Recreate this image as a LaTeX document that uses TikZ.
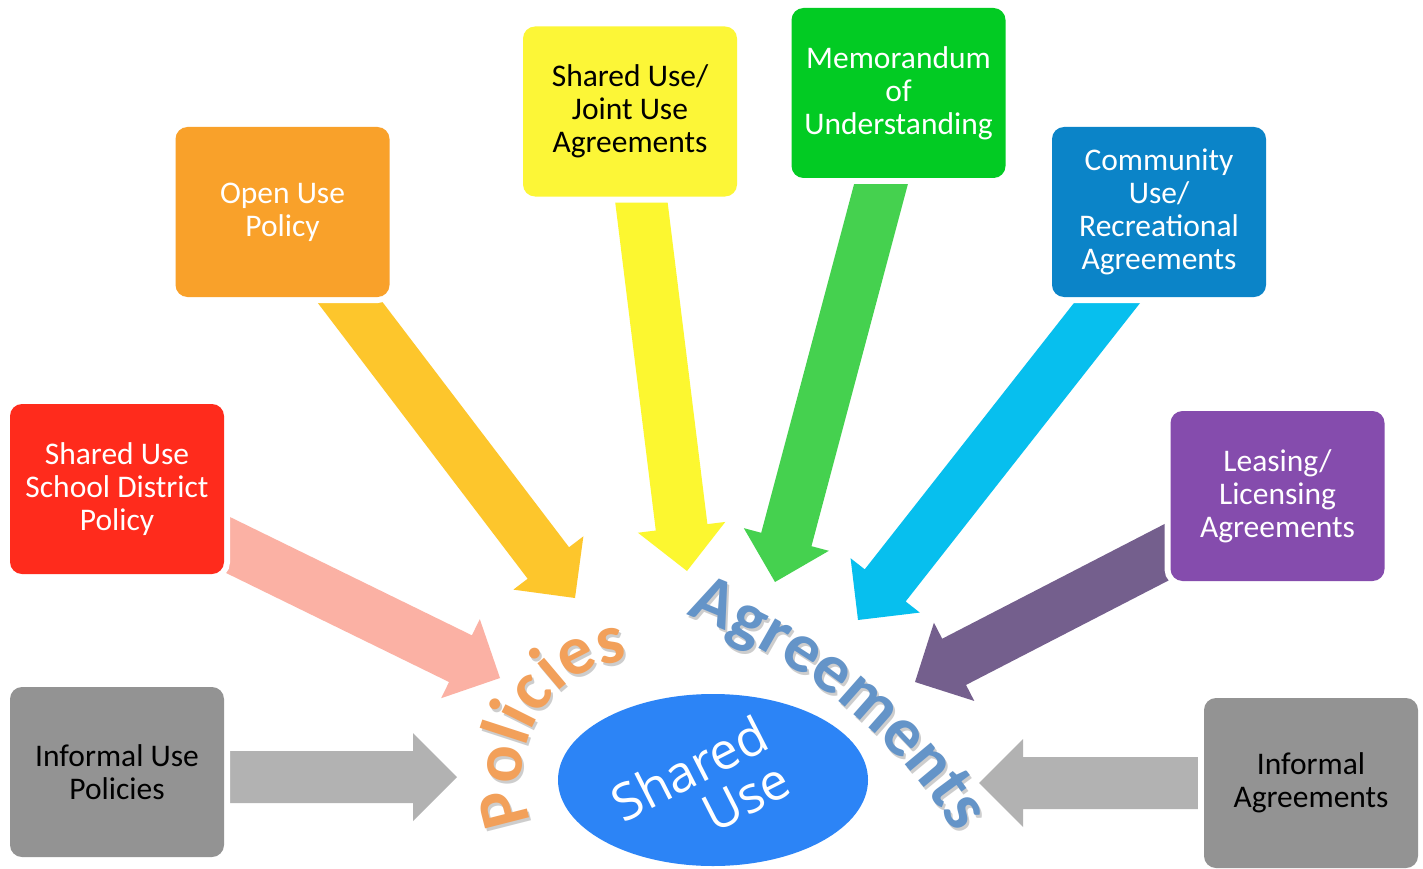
\documentclass[tikz,border=0pt]{standalone}
\usepackage{fontspec}
\setmainfont{Carlito}
\newfontfamily\osans{Open Sans}
\usetikzlibrary{calc,shapes.geometric,decorations.text}
\pgfdeclarelayer{bg}
\pgfsetlayers{bg,main}

\definecolor{cRed}{RGB}{255,43,28}
\definecolor{cGray}{RGB}{147,147,147}
\definecolor{cOrange}{RGB}{249,161,42}
\definecolor{cYellow}{RGB}{252,246,55}
\definecolor{cGreen}{RGB}{2,203,35}
\definecolor{cBlue}{RGB}{11,132,200}
\definecolor{cPurple}{RGB}{133,76,173}
\definecolor{aGray}{RGB}{178,178,178}
\definecolor{aPink}{RGB}{251,177,164}
\definecolor{aGold}{RGB}{253,198,44}
\definecolor{aYellow}{RGB}{252,247,48}
\definecolor{aGreen}{RGB}{69,209,79}
\definecolor{aCyan}{RGB}{7,191,238}
\definecolor{aPurple}{RGB}{116,95,141}
\definecolor{cEllipse}{RGB}{44,132,246}
\definecolor{cPol}{RGB}{242,160,90}
\definecolor{cAgr}{RGB}{100,148,200}
\definecolor{cShadow}{RGB}{205,205,205}

\newcommand{\BlkArrow}[3]{%
  \coordinate (ba-s) at ($(#1)!-30pt!(#2)$);
  \coordinate (ba-b) at ($(#2)!44pt!(#1)$);
  \fill[#3] ($(ba-s)!26pt!90:(#2)$) -- ($(ba-b)!26pt!90:(#2)$)
    -- ($(ba-b)!44pt!90:(#2)$) -- (#2) -- ($(ba-b)!44pt!-90:(#2)$)
    -- ($(ba-b)!26pt!-90:(#2)$) -- ($(ba-s)!26pt!-90:(#2)$) -- cycle;
}
\newcommand{\bigbold}{\fontsize{70}{72}\selectfont\bfseries}

\tikzset{
  box/.style={rounded corners=12pt, minimum width=214pt, minimum height=170pt,
    inner sep=0pt, align=center, font=\fontsize{31.5}{33}\selectfont,
    preaction={draw=white, line width=12pt}},
  sutext/.style={text=white, rotate=27, font=\osans\fontsize{51}{53}\selectfont, inner sep=0pt},
}

\begin{document}
\begin{tikzpicture}[x=1pt, y=-1pt]
\useasboundingbox (0,0) rectangle (1423,869);

% boxes
\node[box, fill=cRed, text=white] (sdp) at (117,489) {Shared Use\\School District\\Policy};
\node[box, fill=cGray, text=black] (iup) at (117,772) {Informal Use\\Policies};
\node[box, fill=cOrange, text=white] (oup) at (282.5,212) {Open Use\\Policy};
\node[box, fill=cYellow, text=black] (sju) at (630,111.5) {Shared Use/\\Joint Use\\Agreements};
\node[box, fill=cGreen, text=white] (mou) at (898.5,93) {Memorandum\\of\\Understanding};
\node[box, fill=cBlue, text=white] (cur) at (1159,212) {Community\\Use/\\Recreational\\Agreements};
\node[box, fill=cPurple, text=white] (llg) at (1277.5,496) {Leasing/\\Licensing\\Agreements};
\node[box, fill=cGray, text=black] (iag) at (1311,783) {Informal\\Agreements};

% arrow end points
\coordinate (s1) at (229,777);   \coordinate (t1) at (457,777);
\coordinate (s2) at (226,544);   \coordinate (t2) at (500,678);
\coordinate (s3) at (350.5,303); \coordinate (t3) at (575,598);
\coordinate (s4) at (641.5,203); \coordinate (t4) at (687,571);
\coordinate (s5) at (881,184);   \coordinate (t5) at (775,582);
\coordinate (s6) at (1107,303);  \coordinate (t6) at (858,620);
\coordinate (s7) at (1167,552);  \coordinate (t7) at (915,682);
\coordinate (s8) at (1199,783);  \coordinate (t8) at (979,783);

\begin{pgfonlayer}{bg}
\fill[white] (0,0) rectangle (1423,869);
\BlkArrow{s1}{t1}{aGray}
\BlkArrow{s2}{t2}{aPink}
\BlkArrow{s3}{t3}{aGold}
\BlkArrow{s4}{t4}{aYellow}
\BlkArrow{s5}{t5}{aGreen}
\BlkArrow{s6}{t6}{aCyan}
\BlkArrow{s7}{t7}{aPurple}
\BlkArrow{s8}{t8}{aGray}
\end{pgfonlayer}

% centre
\node[ellipse, fill=cEllipse, minimum width=310pt, minimum height=172pt, inner sep=0pt] (su) at (713,780) {};
\node[sutext] (sut1) at (689,768) {Shared};
\node[sutext] (sut2) at (746,797) {Use};

% curved words with soft shadow
\path[decorate, decoration={text along path, text={|\bigbold|Policies}, text align=center, text color=cShadow}]
  (639,778) ++(150:115) arc[start angle=150, end angle=272, radius=115];
\path[decorate, decoration={text along path, text={|\bigbold|Policies}, text align=center, text color=cPol}]
  (637,775) ++(150:115) arc[start angle=150, end angle=272, radius=115];
\path[decorate, decoration={text along path, text={|\bigbold|Agreements}, text align=center, text color=cShadow}]
  (502,1124) ++(-75:539) arc[start angle=-75, end angle=-27, radius=539];
\path[decorate, decoration={text along path, text={|\bigbold|Agreements}, text align=center, text color=cAgr}]
  (500,1121) ++(-75:539) arc[start angle=-75, end angle=-27, radius=539];
\end{tikzpicture}
\end{document}
